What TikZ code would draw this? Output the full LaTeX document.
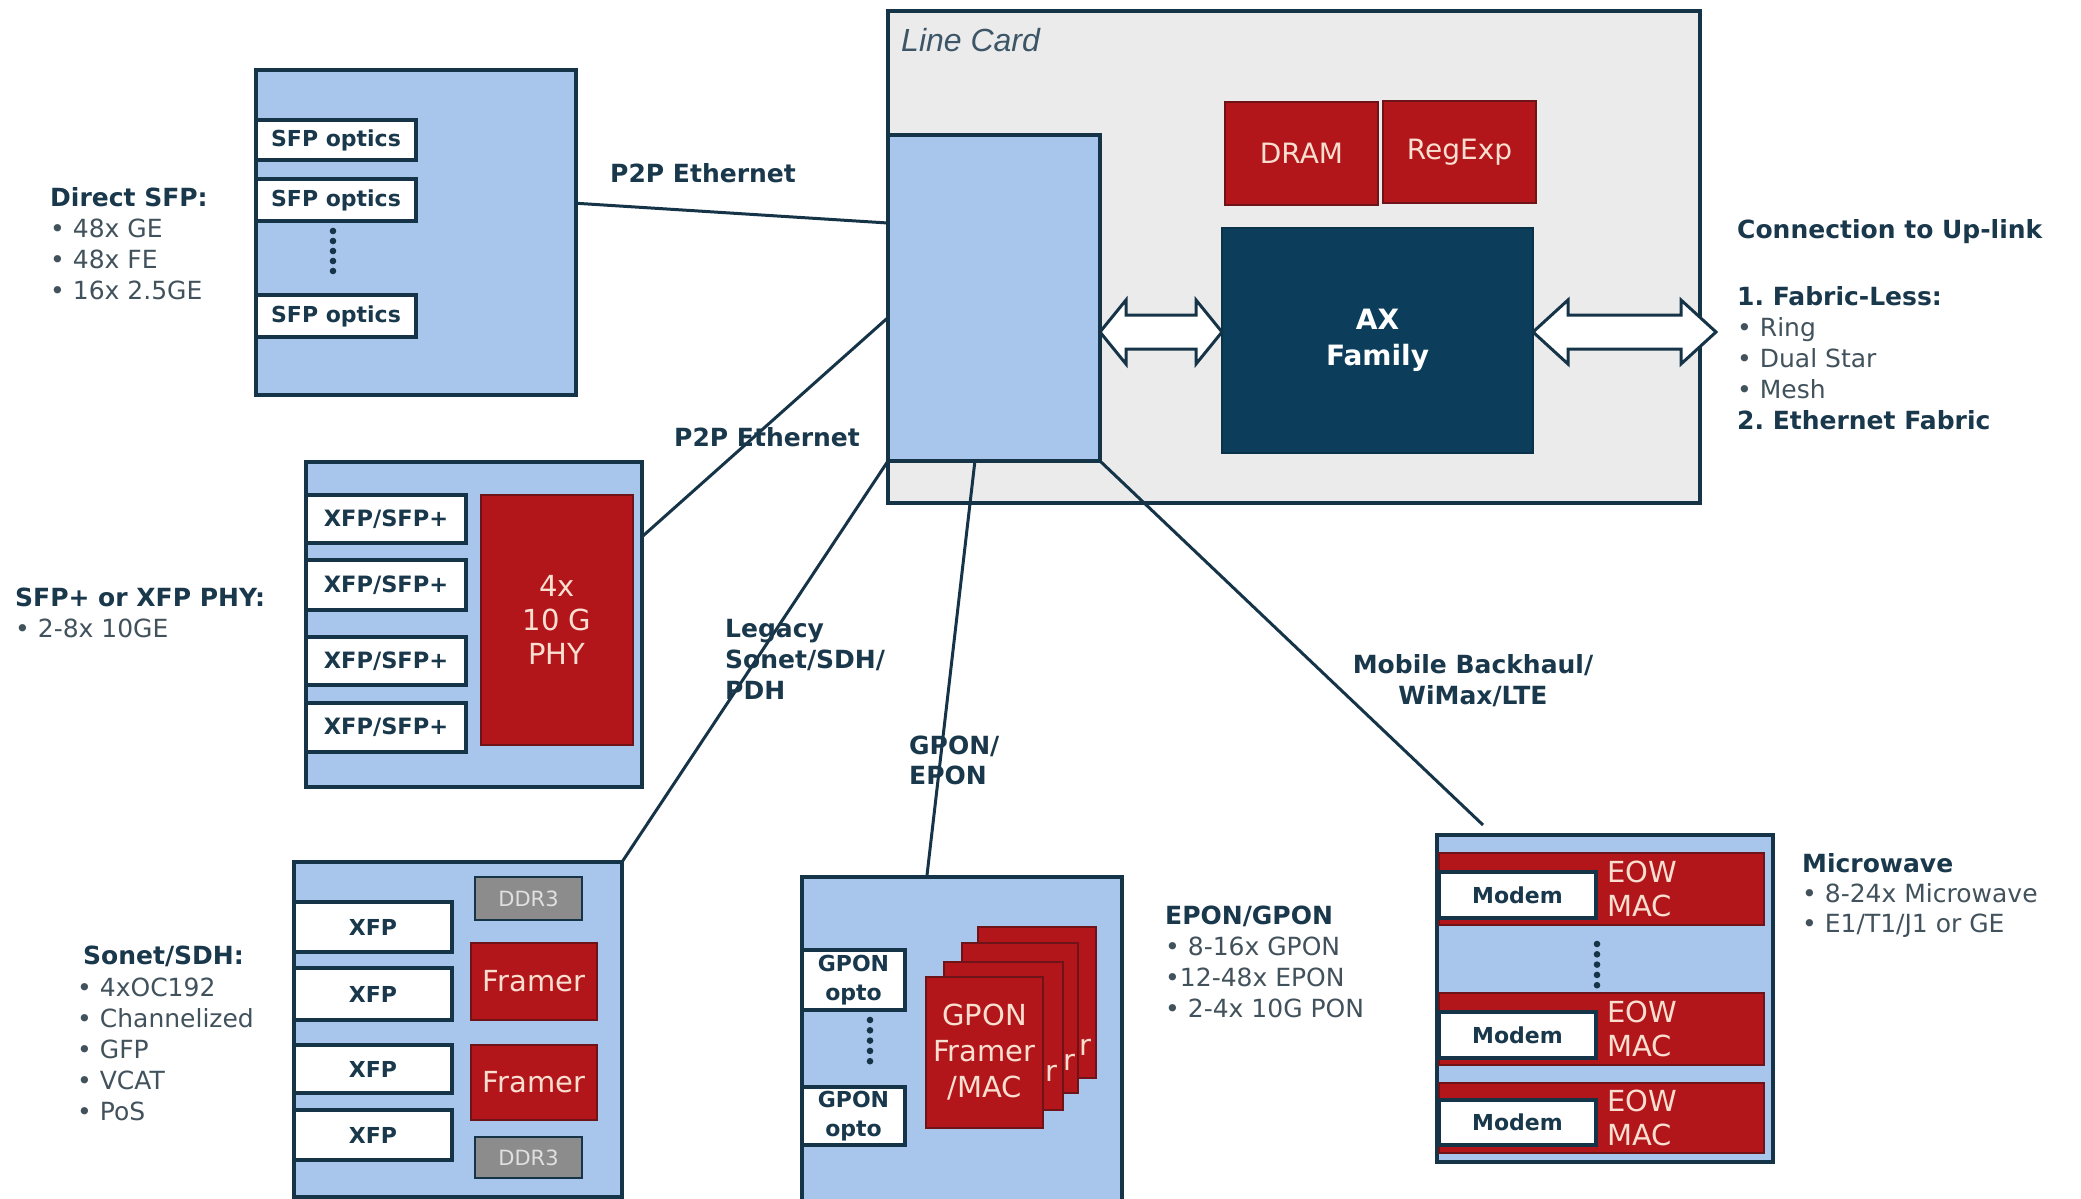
\documentclass[tikz,border=0pt]{standalone}
\usepackage{fontspec}
\setmainfont{DejaVu Sans}
\newfontfamily\lcfont{Liberation Sans}
\usetikzlibrary{calc}
\definecolor{blu}{RGB}{168,197,235}
\definecolor{dk}{RGB}{22,52,72}
\definecolor{rd}{RGB}{178,22,26}
\definecolor{rdb}{RGB}{110,20,24}
\definecolor{pk}{RGB}{250,222,208}
\definecolor{axc}{RGB}{12,62,92}
\definecolor{lcg}{RGB}{235,235,235}
\definecolor{gr}{RGB}{140,140,140}
\definecolor{grt}{RGB}{224,224,224}
\definecolor{hd}{RGB}{26,56,76}
\definecolor{bt}{RGB}{66,82,92}
\newcommand\rbox[7]{\node[#1, minimum width={(#5-#3)*1pt}, minimum height={(#6-#4)*1pt}] (#2) at ({(#3+#5)/2},{(#4+#6)/2}) {#7};}
\newcommand\dbl[4]{\draw[dblarr] (#1,#3) -- ({#1+#4},{#3-32}) -- ({#1+#4},{#3-17}) -- ({#2-#4},{#3-17}) -- ({#2-#4},{#3-32}) -- (#2,#3) -- ({#2-#4},{#3+32}) -- ({#2-#4},{#3+17}) -- ({#1+#4},{#3+17}) -- ({#1+#4},{#3+32}) -- cycle;}
\newcommand\dotcol[3]{\foreach \k in {0,...,4} \fill[dk] (#1,{#2+\k*#3}) circle[radius=3.3pt];}
\tikzset{
 base/.style={inner sep=0pt, outer sep=0pt, rectangle, align=center},
 bluebox/.style={base, fill=blu, draw=dk, line width=4pt},
 whitebox/.style={base, fill=white, draw=dk, line width=3.5pt, text=hd, font=\bfseries\fontsize{22}{29}\selectfont},
 redbox/.style={base, fill=rd, draw=rdb, line width=2.5pt, text=pk, font=\fontsize{29}{35}\selectfont},
 graybox/.style={base, fill=gr, draw=dk, line width=2.5pt, text=grt, font=\fontsize{21}{26}\selectfont},
 redtxt/.style={inner sep=0pt, align=left, text=pk, font=\fontsize{29}{34}\selectfont},
 link/.style={draw=dk, line width=3pt},
 lbl/.style={inner sep=0pt, anchor=north west, align=left, text=hd, font=\bfseries\fontsize{25}{31}\selectfont},
 lst/.style={inner sep=0pt, anchor=north west, align=left, text=bt, font=\fontsize{25}{31}\selectfont},
 dblarr/.style={draw=dk, line width=3pt, fill=white, line join=miter},
}
\begin{document}
\begin{tikzpicture}[x=1pt,y=-1pt]
\fill[white] (0,0) rectangle (2081,1199);
\useasboundingbox (0,0) rectangle (2081,1199);
\clip (0,0) rectangle (2081,1199);

% Line card
\rbox{base, fill=lcg, draw=dk, line width=4.5pt}{lc}{888}{11}{1700}{503}{}
\node[anchor=west, inner sep=0pt, text=hd!85, font=\lcfont\itshape\fontsize{32}{36}\selectfont] (lctitle) at (901,40) {Line Card};
\rbox{bluebox}{inner}{888}{135}{1100}{461}{}
\rbox{redbox, font=\fontsize{28}{34}\selectfont}{dram}{1225}{102}{1378}{205}{DRAM}
\rbox{redbox, font=\fontsize{28}{34}\selectfont}{regexp}{1383}{101}{1536}{203}{RegExp}
\rbox{base, fill=axc, draw=axc!80!black, line width=2pt, text=white, font=\bfseries\fontsize{28}{36}\selectfont}{ax}{1222}{228}{1533}{453}{AX\\Family}
\dbl{1100}{1222}{332}{26}
\coordinate (uplink) at (1716,332);
\dbl{1533}{1716}{332}{35}

% Direct SFP
\rbox{bluebox}{sfp}{256}{70}{576}{395}{}
\rbox{whitebox}{o1}{256}{120}{416}{160}{SFP optics}
\rbox{whitebox}{o2}{256}{179}{416}{221}{SFP optics}
\rbox{whitebox}{o3}{256}{295}{416}{337}{SFP optics}
\dotcol{333}{231}{10}

% SFP+ / XFP PHY
\rbox{bluebox}{phyb}{306}{462}{642}{787}{}
\rbox{whitebox, font=\bfseries\fontsize{22.5}{29}\selectfont}{x1}{306}{495}{466}{543}{XFP/SFP+}
\rbox{whitebox, font=\bfseries\fontsize{22.5}{29}\selectfont}{x2}{306}{560}{466}{610}{XFP/SFP+}
\rbox{whitebox, font=\bfseries\fontsize{22.5}{29}\selectfont}{x3}{306}{637}{466}{685}{XFP/SFP+}
\rbox{whitebox, font=\bfseries\fontsize{22.5}{29}\selectfont}{x4}{306}{703}{466}{752}{XFP/SFP+}
\rbox{redbox, font=\fontsize{29}{34}\selectfont}{phy}{481}{495}{633}{745}{4x\\10 G\\PHY}

% Sonet/SDH
\rbox{bluebox}{son}{294}{862}{622}{1197}{}
\rbox{whitebox}{s1}{294}{902}{452}{952}{XFP}
\rbox{whitebox}{s2}{294}{968}{452}{1020}{XFP}
\rbox{whitebox}{s3}{294}{1045}{452}{1093}{XFP}
\rbox{whitebox}{s4}{294}{1110}{452}{1160}{XFP}
\rbox{graybox}{ddra}{475}{877}{582}{920}{DDR3}
\rbox{redbox}{fra}{471}{943}{597}{1020}{Framer}
\rbox{redbox}{frb}{471}{1045}{597}{1120}{Framer}
\rbox{graybox}{ddrb}{475}{1137}{582}{1178}{DDR3}

% GPON
\rbox{bluebox}{gp}{802}{877}{1122}{1205}{}
\rbox{whitebox}{go1}{802}{950}{905}{1010}{GPON\\opto}
\rbox{whitebox}{go2}{802}{1087}{905}{1145}{GPON\\opto}
\dotcol{870}{1020}{10.3}
\rbox{redbox}{gk4}{978}{927}{1096}{1078}{}
\rbox{redbox}{gk3}{962}{943}{1078}{1093}{}
\node[redtxt] (gt4) at (1085,1047) {r};
\rbox{redbox}{gk2}{944}{962}{1063}{1110}{}
\node[redtxt] (gt3) at (1069,1062) {r};
\rbox{redbox, font=\fontsize{29}{36}\selectfont}{gk1}{926}{977}{1043}{1128}{GPON\\Framer\\/MAC}
\node[redtxt] (gt2) at (1051,1073) {r};

% Microwave
\rbox{bluebox}{mw}{1437}{835}{1773}{1162}{}
\rbox{redbox}{r1}{1439}{853}{1764}{925}{}
\rbox{whitebox}{m1}{1439}{872}{1596}{918}{Modem}
\node[redtxt, anchor=west] (e1) at (1607,889) {EOW\\MAC};
\rbox{redbox}{r2}{1439}{993}{1764}{1065}{}
\rbox{whitebox}{m2}{1439}{1012}{1596}{1058}{Modem}
\node[redtxt, anchor=west] (e2) at (1607,1029) {EOW\\MAC};
\rbox{redbox}{r3}{1439}{1083}{1764}{1153}{}
\rbox{whitebox}{m3}{1439}{1100}{1596}{1145}{Modem}
\node[redtxt, anchor=west] (e3) at (1607,1118) {EOW\\MAC};
\dotcol{1597}{944}{10.3}

% connectors
\coordinate (mwend) at ($(mw.north west)+(46,-10)$);
\draw[link] ($(sfp.north east)!0.41!(sfp.south east)$) -- ($(inner.north west)!0.27!(inner.south west)$);
\draw[link] ($(phyb.north east)!0.23!(phyb.south east)$) -- ($(inner.north west)!0.56!(inner.south west)$);
\draw[link] (son.north east) -- (inner.south west);
\draw[link] ($(gp.north west)!0.39!(gp.north east)$) -- ($(inner.south west)!0.41!(inner.south east)$);
\draw[link] (inner.south east) -- (mwend);

% link labels
\node[lbl, anchor=center] (p2pa) at (703,173) {P2P Ethernet};
\node[lbl, anchor=center] (p2pb) at (767,437) {P2P Ethernet};
\node[lbl] (leg) at (725,619) {Legacy\\Sonet/SDH/\\PDH};
\node[lbl, font=\bfseries\fontsize{25}{30}\selectfont] (gpl) at (909,736) {GPON/\\EPON};
\node[lbl, anchor=center, align=center] (mob) at (1473,681) {Mobile Backhaul/\\WiMax/LTE};

% side labels
\node[lst] (dsfp) at (50,187) {{\bfseries\color{hd}Direct SFP:}\\• 48x GE\\• 48x FE\\• 16x 2.5GE};
\node[lst] (xphy) at (15,588) {{\bfseries\color{hd}SFP+ or XFP PHY:}\\• 2-8x 10GE};
\node[lbl] (sonh) at (83,946) {Sonet/SDH:};
\node[lst] (sonl) at (77,978) {• 4xOC192\\• Channelized\\• GFP\\• VCAT\\• PoS};
\node[lst] (epon) at (1165,906) {{\bfseries\color{hd}EPON/GPON}\\• 8-16x GPON\\•12-48x EPON\\• 2-4x 10G PON};
\node[lst, font=\fontsize{25}{30}\selectfont] (mwl) at (1802,853) {{\bfseries\color{hd}Microwave}\\• 8-24x Microwave\\• E1/T1/J1 or GE};
\node[lbl] (uph) at (1737,219) {Connection to Up-link};
\node[lst] (upl) at (1737,286) {{\bfseries\color{hd}1.\ Fabric-Less:}\\• Ring\\• Dual Star\\• Mesh\\{\bfseries\color{hd}2.\ Ethernet Fabric}};
\end{tikzpicture}
\end{document}
